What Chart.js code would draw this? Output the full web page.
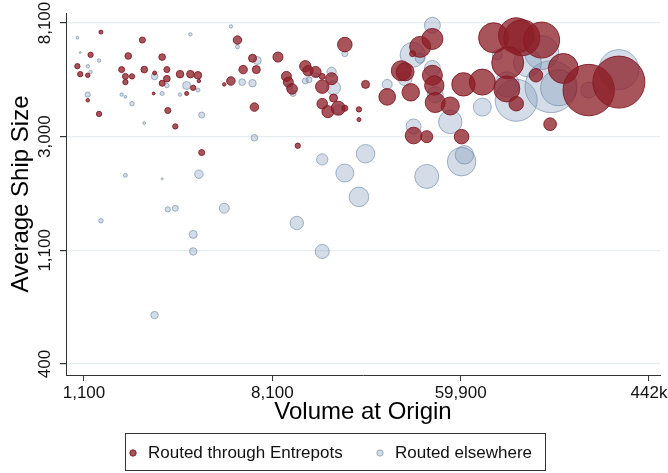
<!DOCTYPE html>
<html>
<head>
<meta charset="utf-8">
<script src="https://cdn.jsdelivr.net/npm/chart.js@4.4.1/dist/chart.umd.min.js"></script>
<style>
  html, body { margin: 0; padding: 0; background: #fff; }
</style>
</head>
<body>
<canvas id="myChart" width="668" height="473"></canvas>
<script>
// log values (natural log) of volume at origin, average ship size, and bubble weight
const entLogVolume = [7.18, 7.62, 8.63, 7.07, 7.47, 7.83, 8.79, 6.93, 7.40, 7.64,
  7.88, 8.69, 8.83, 6.96, 7.04, 7.44, 7.51, 7.75, 8.02, 8.13,
  8.21, 7.88, 7.44, 7.83, 8.22, 8.16, 8.49, 8.56, 7.74, 8.09,
  7.04, 7.16, 7.89, 8.81, 7.97, 8.25, 9.27, 9.06, 9.77, 9.35,
  9.38, 9.46, 9.53, 9.15, 9.17, 9.21, 9.63, 9.53, 9.65, 9.99,
  9.53, 9.59, 9.70, 9.77, 9.92, 10.22, 10.37, 10.41, 10.47, 10.57,
  10.70, 10.49, 10.70, 10.72, 10.73, 10.50, 10.64, 11.01, 9.92, 11.35,
  11.59, 11.65, 11.86, 11.50, 11.80, 12.09, 12.36, 12.68, 11.03, 11.23,
  11.49, 11.59, 10.89, 11.95];
const entLogShipSize = [8.92, 8.85, 8.85, 8.72, 8.71, 8.70, 8.69, 8.62, 8.59, 8.59,
  8.59, 8.59, 8.59, 8.55, 8.54, 8.53, 8.53, 8.56, 8.55, 8.55,
  8.54, 8.51, 8.48, 8.47, 8.49, 8.43, 8.46, 8.49, 8.38, 8.38,
  8.32, 8.20, 8.23, 8.26, 8.09, 7.86, 7.92, 8.70, 8.81, 8.62,
  8.58, 8.57, 8.53, 8.53, 8.48, 8.42, 8.51, 8.44, 8.34, 8.46,
  8.29, 8.22, 8.25, 8.25, 8.24, 8.35, 8.58, 8.57, 8.39, 8.79,
  8.86, 8.73, 8.54, 8.45, 8.30, 8.01, 8.00, 8.00, 8.15, 8.87,
  8.89, 8.87, 8.85, 8.65, 8.54, 8.60, 8.41, 8.48, 8.46, 8.48,
  8.42, 8.29, 8.27, 8.11];
const entWeight = [4, 9, 18, 7, 11, 11, 16, 7, 9, 11,
  9, 18, 16, 7, 5, 9, 7, 4, 14, 14,
  14, 11, 7, 9, 3, 7, 3, 18, 2, 4,
  3, 7, 9, 18, 7, 9, 7, 25, 53, 32,
  27, 30, 9, 25, 25, 28, 36, 45, 16, 16,
  28, 36, 49, 9, 7, 69, 100, 81, 76, 110,
  110, 9, 100, 94, 100, 69, 36, 53, 4, 225,
  313, 324, 324, 256, 45, 225, 660, 676, 137, 169,
  169, 53, 81, 40];

const othLogVolume = [6.93, 8.13, 8.56, 8.63, 6.96, 7.16, 7.04, 7.07, 8.84, 7.75,
  7.88, 8.09, 8.21, 8.68, 8.79, 7.04, 7.40, 7.44, 7.83, 8.02,
  7.51, 8.25, 7.64, 8.81, 9.53, 9.77, 9.99, 9.92, 7.44, 7.83,
  8.22, 7.89, 7.97, 8.49, 7.18, 9.26, 8.16, 8.16, 9.53, 7.75,
  9.77, 9.63, 9.35, 9.39, 9.47, 9.65, 9.18, 9.22, 9.70, 10.22,
  10.49, 10.57, 10.70, 10.70, 10.41, 10.50, 10.73, 10.89, 11.04, 11.01,
  10.64, 11.23, 11.59, 11.96, 12.04, 12.68, 11.39, 11.49, 11.71, 11.86,
  12.36];
const othLogShipSize = [8.87, 8.90, 8.97, 8.79, 8.74, 8.67, 8.62, 8.57, 8.67, 8.53,
  8.45, 8.45, 8.41, 8.48, 8.47, 8.37, 8.37, 8.35, 8.38, 8.37,
  8.29, 8.19, 8.12, 7.99, 7.80, 7.68, 7.85, 7.47, 7.66, 7.63,
  7.67, 7.36, 7.37, 7.37, 7.26, 7.24, 7.14, 6.99, 6.99, 6.43,
  8.73, 8.57, 8.49, 8.50, 8.54, 8.43, 8.44, 8.38, 8.24, 8.46,
  8.72, 8.69, 8.98, 8.60, 8.51, 8.09, 8.37, 8.13, 7.84, 7.78,
  7.65, 8.26, 8.32, 8.44, 8.43, 8.59, 8.72, 8.46, 8.65, 8.74,
  8.41];
const othWeight = [2, 3, 3, 4, 1, 3, 3, 3, 16, 11,
  5, 16, 4, 11, 14, 7, 3, 2, 4, 3,
  5, 9, 2, 11, 32, 81, 86, 96, 4, 1,
  18, 7, 9, 25, 5, 45, 16, 14, 49, 14,
  9, 22, 9, 9, 6, 49, 11, 9, 22, 25,
  156, 25, 64, 64, 49, 56, 64, 137, 86, 204,
  144, 81, 441, 676, 324, 400, 25, 156, 196, 289,
  64];

const xTickLogs = [7, 9, 11, 13];
const xTickLabels = ["1,100", "8,100", "59,900", "442k"];
const yTickLogs = [6, 7, 8, 9];
const yTickLabels = ["400", "1,100", "3,000", "8,100"];

const seriesNames = ["Routed through Entrepots", "Routed elsewhere"];

const FONT = '"Liberation Sans", Arial, sans-serif';

const toPoints = (xs, ys, ws) => xs.map((x, i) => ({ x: x, y: ys[i], r: Math.sqrt(ws[i]) }));

const redFill = "rgba(140, 30, 40, 0.76)";
const redLine = "rgba(130, 25, 35, 0.9)";
const blueFill = "rgba(110, 140, 175, 0.3)";
const blueLine = "rgba(95, 125, 160, 0.55)";

// y tick labels (rotated) and the boxed legend, Stata style
const extras = {
    id: "extras",
    afterDraw(chart) {
        const c = chart.ctx;
        const ys = chart.scales.y;
        c.save();
        c.fillStyle = "#111";
        c.font = "17px " + FONT;
        c.textAlign = "center";
        c.textBaseline = "middle";
        yTickLogs.forEach((v, i) => {
            c.save();
            c.translate(45, ys.getPixelForValue(v));
            c.rotate(-Math.PI / 2);
            c.fillText(yTickLabels[i], 0, 0);
            c.restore();
        });

        c.strokeStyle = "#333";
        c.lineWidth = 1;
        c.strokeRect(125.5, 433.5, 420, 37);

        const items = [
            { x: 133, fill: redFill, line: redLine, text: seriesNames[0] },
            { x: 380, fill: blueFill, line: blueLine, text: seriesNames[1] },
        ];
        items.forEach((it) => {
            c.beginPath();
            c.arc(it.x, 453, 3.2, 0, Math.PI * 2);
            c.fillStyle = it.fill;
            c.fill();
            c.strokeStyle = it.line;
            c.stroke();
            c.fillStyle = "#111";
            c.textAlign = "left";
            c.fillText(it.text, it.x + 15, 453);
        });
        c.restore();
    },
};

const ctx = document.getElementById("myChart");

new Chart(ctx, {
    type: "bubble",
    data: {
        datasets: [
            {
                label: seriesNames[0],
                data: toPoints(entLogVolume, entLogShipSize, entWeight),
                backgroundColor: redFill,
                borderColor: redLine,
                borderWidth: 1,
            },
            {
                label: seriesNames[1],
                data: toPoints(othLogVolume, othLogShipSize, othWeight),
                backgroundColor: blueFill,
                borderColor: blueLine,
                borderWidth: 1,
            },
        ],
    },
    options: {
        responsive: false,
        animation: false,
        events: [],
        layout: { autoPadding: false, padding: { top: 13, right: 8, bottom: 0, left: 0 } },
        clip: false,
        plugins: {
            legend: { display: false },
            tooltip: { enabled: false },
        },
        scales: {
            x: {
                type: "linear",
                min: 6.809,
                max: 13.117,
                afterBuildTicks: (scale) => {
                    scale.ticks = xTickLogs.map((v) => ({ value: v }));
                },
                afterFit: (scale) => {
                    scale.height = 98;
                    scale.paddingLeft = 0;
                    scale.paddingRight = 0;
                },
                ticks: {
                    autoSkip: false,
                    maxRotation: 0,
                    padding: 2,
                    color: "#111",
                    font: { family: FONT, size: 17 },
                    callback: (v) => {
                        const i = xTickLogs.indexOf(v);
                        return i >= 0 ? xTickLabels[i] : "";
                    },
                },
                grid: {
                    drawOnChartArea: false,
                    drawTicks: true,
                    tickLength: 6,
                    tickColor: "#333",
                },
                border: { display: true, color: "#333", width: 1 },
                title: {
                    display: true,
                    text: "Volume at Origin",
                    color: "#000",
                    font: { family: FONT, size: 24 },
                    padding: { top: 0, bottom: 46 },
                },
            },
            y: {
                type: "linear",
                min: 5.903,
                max: 9.088,
                afterBuildTicks: (scale) => {
                    scale.ticks = yTickLogs.map((v) => ({ value: v }));
                },
                afterFit: (scale) => {
                    scale.width = 66;
                },
                ticks: { display: false },
                grid: {
                    color: "#e5edf0",
                    lineWidth: 1.2,
                    drawTicks: true,
                    tickLength: 6,
                    tickColor: "#333",
                },
                border: { display: true, color: "#333", width: 1 },
                title: {
                    display: true,
                    text: "Average Ship Size",
                    color: "#000",
                    font: { family: FONT, size: 24 },
                    padding: { top: 7, bottom: 0 },
                },
            },
        },
    },
    plugins: [extras],
});
</script>
</body>
</html>
